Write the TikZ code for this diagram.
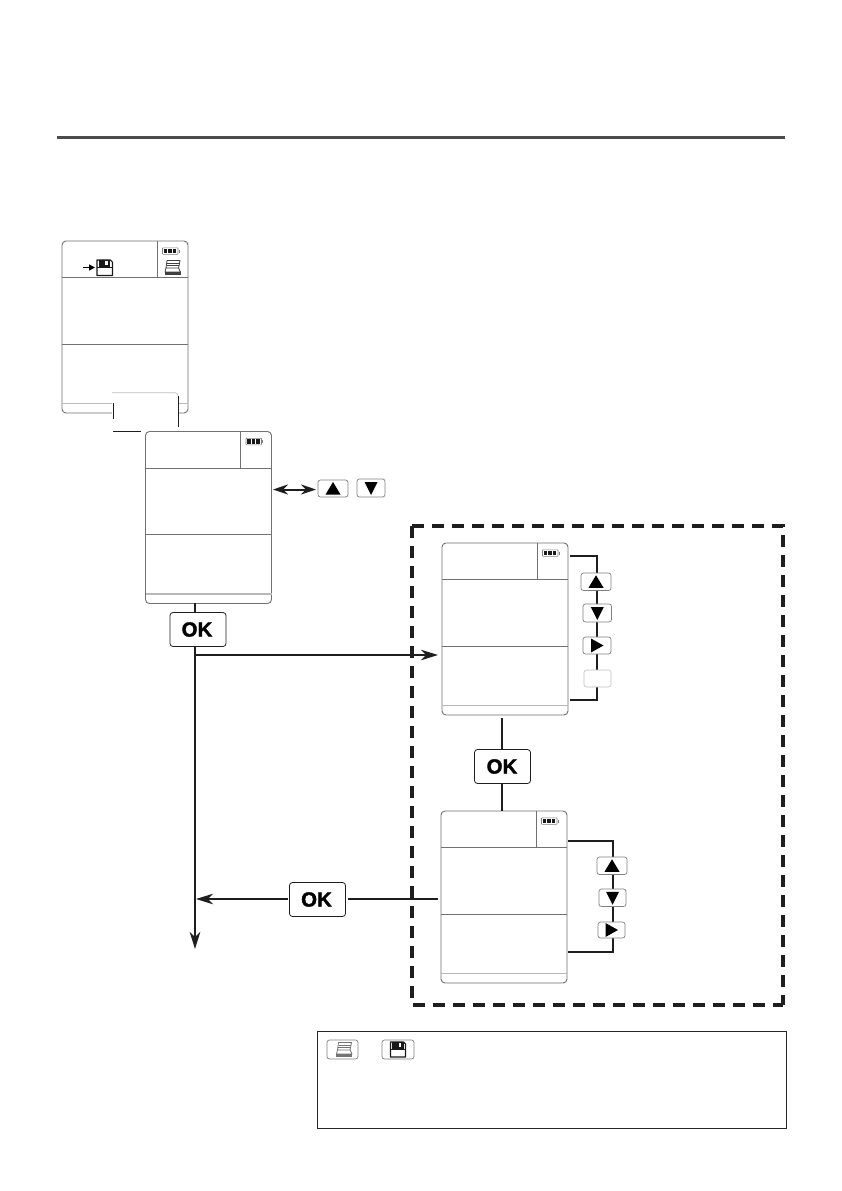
\documentclass[tikz,border=0pt]{standalone}
\usepackage{fontspec}
\setmainfont{Liberation Sans}
\newfontfamily\okfont[UprightFont={* Bold},FakeBold=1.6]{Liberation Sans}
\usetikzlibrary{arrows.meta,calc}
\definecolor{linek}{HTML}{1E1E1E}
\definecolor{scrn}{HTML}{707070}
\definecolor{scrl}{HTML}{B8B8B8}
\definecolor{keyb}{HTML}{808080}
\tikzset{
  screenbox/.style={draw=scrn,fill=white,line width=.9pt,rounded corners=4pt,anchor=north west,inner sep=0pt,outer sep=0pt,minimum width=126pt,minimum height=172pt},
  headline/.style={draw=scrn,line width=1pt},
  footline/.style={draw=scrl,line width=1.5pt},
  keybox/.style={draw=keyb,fill=white,line width=.7pt,rounded corners=2.5pt,inner sep=0pt,outer sep=0pt},
  okbox/.style={draw=linek,fill=white,line width=.8pt,rounded corners=3pt,inner sep=0pt,outer sep=0pt,minimum width=56pt,minimum height=34pt},
  oklabel/.style={inner sep=0pt,font=\okfont\fontsize{20.5}{20.5}\selectfont,text=black},
  conn/.style={draw=linek,line width=2pt},
  tip/.style={-{Stealth[length=17pt,width=10.5pt,inset=5pt]}},
  dtip/.style={{Stealth[length=15pt,width=10pt,inset=5pt]}-{Stealth[length=15pt,width=10pt,inset=5pt]}},
  framedash/.style={draw=linek,line width=4pt,dash pattern=on 12pt off 8pt},
}
\newcommand{\battery}[2]{%
  \draw[draw=black!50,line width=.6pt,rounded corners=.6pt] (#1,#2) rectangle ++(15.5,6.5);
  \fill[black!90] (#1+1,#2+1) rectangle ++(3.9,4.5);
  \fill[black!90] (#1+5.5,#2+1) rectangle ++(3.9,4.5);
  \fill[black!90] (#1+10,#2+1) rectangle ++(3.6,4.5);
  \draw[draw=black!50,line width=1pt] (#1+16.8,#2+1.8) -- ++(0,3);
}
\newcommand{\drawscreen}[3]{%
  \node[screenbox] (#1) at (#2,#3) {};
  \begin{scope}[shift={(#2,#3)}]
    \draw[headline] (0,36.5) -- (126,36.5);
    \draw[headline,line width=.7pt] (95,0) -- (95,36.5);
    \draw[headline] (0,103) -- (126,103);
    \draw[footline] (0,162.5) -- (126,162.5);
    \battery{100.5}{6.8}
  \end{scope}
}
\newcommand{\floppy}[4]{% x y size colour
  \begin{scope}[shift={(#1,#2)},scale=#3/15]
    \draw[#4,line width=1.1pt,line join=round] (0,0) -- (13,0) -- (15,2) -- (15,15) -- (0,15) -- cycle;
    \fill[#4] (1.8,0) rectangle (13,6.8);
    \fill[white] (8.2,1) rectangle (10.8,5.2);
    \fill[#4] (0,6.8) rectangle (15,8);
  \end{scope}
}
\newcommand{\printer}[4]{% x y size colour
  \begin{scope}[shift={(#1,#2)},scale=#3/15]
    \draw[#4,line width=.8pt,line join=round] (2,0.5) -- (15,0.5) -- (13.6,8) -- (1,8) -- cycle;
    \draw[#4,line width=.6pt] (2,3) -- (14.2,3);
    \draw[#4,line width=.6pt] (1.6,5.2) -- (14,5.2);
    \draw[#4,line width=.8pt,line join=round] (1,8) -- (0,12) -- (15.5,12) -- (13.6,8);
    \fill[#4] (-.3,12) rectangle (15.7,15);
  \end{scope}
}
\newcommand{\triup}[1]{\fill[black] ([shift={(0,-6.5)}]#1.center) -- ([shift={(7.5,6)}]#1.center) -- ([shift={(-7.5,6)}]#1.center) -- cycle;}
\newcommand{\tridown}[1]{\fill[black] ([shift={(0,7)}]#1.center) -- ([shift={(6.5,-6)}]#1.center) -- ([shift={(-6.5,-6)}]#1.center) -- cycle;}
\newcommand{\triright}[1]{\fill[black] ([shift={(6.5,0)}]#1.center) -- ([shift={(-6,-7)}]#1.center) -- ([shift={(-6,7)}]#1.center) -- cycle;}
\newcommand{\keynode}[5]{% name x1 y1 x2 y2
  \path let \n1={#4-#2},\n2={#5-#3} in node[keybox,minimum width=\n1 pt,minimum height=\n2 pt] (#1) at ({(#2+#4)/2},{(#3+#5)/2}) {};
}
\begin{document}
\begin{tikzpicture}[x=1pt,y=-1pt]
\useasboundingbox (0,0) rectangle (842,1191);
\fill[white] (0,0) rectangle (842,1191);

% top rule
\coordinate (ruleL) at (57,137);
\coordinate (ruleR) at (785,137);
\draw[draw=black!70,line width=3pt] (ruleL) -- (ruleR);

% dashed frame
\node[inner sep=0pt,outer sep=0pt,minimum width=371pt,minimum height=479pt] (frame) at (597.5,765.5) {};
\draw[framedash] (frame.north west) -- (frame.north east) -- (frame.south east);
\draw[framedash] (frame.north west) -- (frame.south west) -- (frame.south east);

% screen 1 and the part that lies on it
\drawscreen{scrA}{62}{241}
\node[inner sep=0pt,outer sep=0pt,minimum width=16pt,minimum height=15pt] (floppyA) at (105,267.5) {};
\floppy{97}{260}{15.5}{black!90}
\printer{165}{260}{15}{black!75}
\draw[headline,line width=.7pt] (157,277) -- (157,241);
\coordinate (arrFrom) at (83,267.5);
\draw[draw=black,line width=1.5pt,-{Stealth[length=6pt,width=6pt,inset=0pt]}] (arrFrom) -- ([xshift=-2pt]floppyA.west);

% overlapping blank key on screen 1
\node[fill=white,inner sep=0pt,outer sep=0pt,minimum width=66pt,minimum height=40pt] (blankA) at (145,412.7) {};
\coordinate (blR1) at (178,396);
\coordinate (blR2) at (178,427);
\coordinate (blL1) at (113,403);
\coordinate (blL2) at (113,419);
\coordinate (blB1) at (113,431.7);
\coordinate (blB2) at (141,431.7);
\draw[draw=black!25,line width=.7pt,rounded corners=3pt] (blankA.north west) -- (blankA.north east) -- (blR1);
\draw[draw=linek,line width=.9pt] (blR1) -- (blR2);
\draw[draw=linek,line width=.9pt] (blL1) -- (blL2);
\draw[draw=linek,line width=.9pt] (blB1) -- (blB2);

% screens 2-4
\drawscreen{scrB}{145.5}{431.5}
\drawscreen{scrC}{442}{543}
\drawscreen{scrD}{441}{811}

% junctions
\coordinate (busTop) at (195,603);
\coordinate (busEnd) at (195,949);
\coordinate (busC) at (195,655);
\coordinate (busD) at (195,899);
\coordinate (toC) at (438,655);
\coordinate (dblL) at (273,489.5);
\coordinate (dblR) at (316,489.5);
\coordinate (cTop) at (569.5,555.5);
\coordinate (cRT) at (597,555.5);
\coordinate (cRB) at (597,700);
\coordinate (cBot) at (569.5,700);
\coordinate (dTop) at (568,841);
\coordinate (dRT) at (613,841);
\coordinate (dRB) at (613,952);
\coordinate (dBot) at (568,952);
\coordinate (sC) at (502,718);
\coordinate (sD) at (438,899);

% OK nodes
\node[okbox] (okA) at (198,629.5) {};
\node[okbox] (okB) at (502.5,766.5) {};
\node[okbox] (okC) at (317.5,899.5) {};

% connectors
\draw[conn] (busTop) -- (busTop |- okA.north);
\draw[conn,tip] (busTop |- okA.south) -- (busEnd);
\draw[conn,tip] (busC) -- (toC);
\draw[conn,dtip] (dblL) -- (dblR);
\draw[conn] (sC) -- (sC |- okB.north);
\draw[conn] (sC |- okB.south) -- (sC |- scrD.north);
\draw[conn,tip] ($(okC.west |- busD)+(-2,0)$) -- ($(busD)+(1,0)$);
\draw[conn] ($(okC.east |- busD)+(2,0)$) -- (sD);
\draw[conn,line join=miter] (cTop) -- (cRT) -- (cRB) -- (cBot);
\draw[conn,line join=miter] (dTop) -- (dRT) -- (dRB) -- (dBot);

% OK text
\node[oklabel] at ($(okA)+(-1,0)$) {OK};
\node[oklabel] at ($(okB)+(-.5,0)$) {OK};
\node[oklabel] at ($(okC)+(-1,0)$) {OK};

% arrow keys
\keynode{kUp}{318}{480}{348}{497}\triup{kUp}
\keynode{kDn}{357}{479}{385}{497}\tridown{kDn}
\keynode{cUp}{581}{573}{611}{590.5}\triup{cUp}
\keynode{cDn}{583}{604}{611.5}{622}\tridown{cDn}
\keynode{cRt}{583}{637}{611}{654}\triright{cRt}
\node[draw=black!25,fill=white,line width=.6pt,rounded corners=2.5pt,inner sep=0pt,outer sep=0pt,minimum width=27pt,minimum height=17pt] (cBl) at (597.5,678.5) {};
\keynode{dUp}{597}{857}{627}{874.5}\triup{dUp}
\keynode{dDn}{599}{889}{626}{906.5}\tridown{dDn}
\keynode{dRt}{598}{922}{625}{938}\triright{dRt}

% note box
\node[draw=black!85,line width=.9pt,fill=white,inner sep=0pt,outer sep=0pt,minimum width=469pt,minimum height=97pt] (note) at (551.5,1079.5) {};
\keynode{nP}{327}{1040}{358}{1059}
\keynode{nF}{382}{1040}{414}{1059}
\printer{336.5}{1042}{15}{black!55}
\floppy{390.5}{1042}{15}{black!90}
\end{tikzpicture}
\end{document}
